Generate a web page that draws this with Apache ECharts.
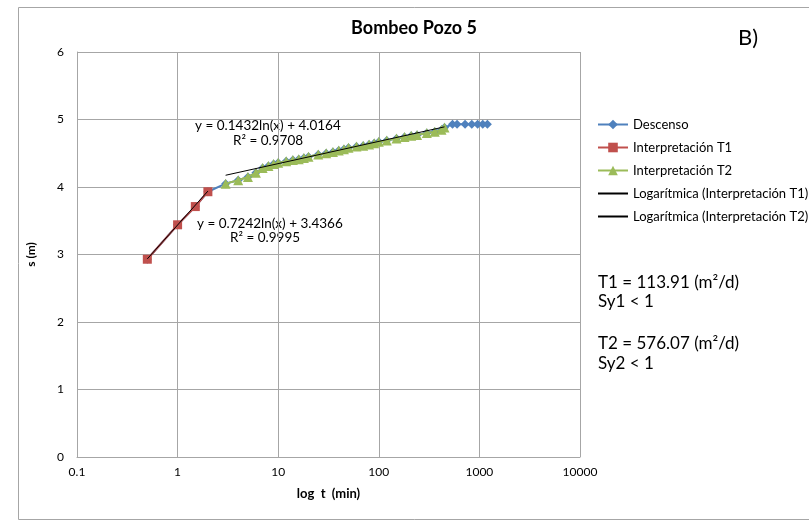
<!DOCTYPE html>
<html><head><meta charset="utf-8">
<script src="https://cdn.jsdelivr.net/npm/echarts@6/dist/echarts.min.js"></script>
<style>html,body{margin:0;padding:0;background:#fff}#c{width:809px;height:525px}</style>
</head><body><div id="c"></div>
<script>
// Times (min) and drawdowns (m)
const t1Times = [0.5, 1, 1.5, 2];
const t1Values = [2.93, 3.44, 3.71, 3.93];
const t2Times = [3, 4, 5, 6, 7, 8, 9, 10, 12, 14, 16, 18, 20, 25, 30, 35, 40, 45, 50, 60, 70, 80, 90, 100, 120, 150, 180, 210, 240, 300, 360, 420, 450];
const t2Values = [4.05, 4.10, 4.15, 4.21, 4.28, 4.31, 4.34, 4.36, 4.38, 4.40, 4.41, 4.43, 4.45, 4.48, 4.50, 4.52, 4.54, 4.56, 4.58, 4.60, 4.61, 4.63, 4.65, 4.67, 4.69, 4.72, 4.74, 4.76, 4.77, 4.80, 4.82, 4.85, 4.88];
const tailTimes = [540, 600, 720, 840, 960, 1080, 1200];
const tailValues = [4.93, 4.93, 4.93, 4.93, 4.93, 4.93, 4.93];
// Logarithmic trend line endpoints (straight on a log axis)
const trendT1Times = [0.5, 2];
const trendT1Values = [2.935, 3.939];
const trendT2Times = [3, 450];
const trendT2Values = [4.174, 4.891];
const xTickLabels = ['0.1', '1', '10', '100', '1000', '10000'];
const yTickLabels = ['0', '1', '2', '3', '4', '5', '6'];

const zip = (a, b) => a.map((v, i) => [v, b[i]]);
const descenso = zip(t1Times.concat(t2Times, tailTimes), t1Values.concat(t2Values, tailValues));

const FONT = 'Lato';
const noMarker = {color: 'rgba(0,0,0,0)', borderWidth: 0, opacity: 0};
const chart = echarts.init(document.getElementById('c'), null, {renderer: 'canvas'});
chart.setOption({
  animation: false,
  textStyle: {fontFamily: FONT},
  grid: {left: 77, right: 229, top: 52, bottom: 68, containLabel: false},
  xAxis: {
    type: 'log', logBase: 10, min: 0.1, max: 10000,
    name: 'log  t  (min)', nameLocation: 'middle', nameGap: 30,
    nameTextStyle: {fontFamily: FONT, fontWeight: 'bold', fontSize: 13, color: '#000'},
    axisLine: {show: true, lineStyle: {color: '#A6A6A6'}},
    axisTick: {show: false},
    axisLabel: {fontFamily: FONT, fontSize: 12, color: '#000', margin: 9,
      formatter: v => { const i = Math.round(Math.log10(v)) + 1; return xTickLabels[i] !== undefined ? xTickLabels[i] : ''; }},
    splitLine: {show: true, lineStyle: {color: '#A6A6A6', width: 1}}
  },
  yAxis: {
    type: 'value', min: 0, max: 6, interval: 1,
    name: 's (m)', nameLocation: 'middle', nameGap: 40,
    nameTextStyle: {fontFamily: FONT, fontWeight: 'bold', fontSize: 12, color: '#000'},
    axisLine: {show: true, lineStyle: {color: '#A6A6A6'}},
    axisTick: {show: false},
    axisLabel: {fontFamily: FONT, fontSize: 12, color: '#000', margin: 13,
      formatter: v => yTickLabels[Math.round(v)]},
    splitLine: {show: true, lineStyle: {color: '#A6A6A6', width: 1}}
  },
  legend: {
    orient: 'vertical', left: 592, top: 113, itemGap: 10,
    itemWidth: 30, itemHeight: 12,
    textStyle: {fontFamily: FONT, fontSize: 13, lineHeight: 12, color: '#000'},
    data: ['Descenso', 'Interpretación T1', 'Interpretación T2',
      {name: 'Logarítmica (Interpretación T1)', itemStyle: noMarker},
      {name: 'Logarítmica (Interpretación T2)', itemStyle: noMarker}]
  },
  series: [
    {name: 'Descenso', type: 'line', data: descenso, symbol: 'diamond', symbolSize: 9,
      lineStyle: {color: '#4F81BD', width: 2}, itemStyle: {color: '#4F81BD'}, z: 2},
    {name: 'Interpretación T1', type: 'line', data: zip(t1Times, t1Values), symbol: 'rect', symbolSize: 9,
      lineStyle: {color: '#C0504D', width: 2}, itemStyle: {color: '#C0504D'}, z: 3},
    {name: 'Interpretación T2', type: 'line', data: zip(t2Times, t2Values), symbol: 'triangle', symbolSize: 10,
      lineStyle: {color: '#9BBB59', width: 2}, itemStyle: {color: '#9BBB59'}, z: 3},
    {name: 'Logarítmica (Interpretación T1)', type: 'line', data: zip(trendT1Times, trendT1Values), symbol: 'none',
      lineStyle: {color: '#000', width: 1}, itemStyle: {color: '#000'}, z: 4},
    {name: 'Logarítmica (Interpretación T2)', type: 'line', data: zip(trendT2Times, trendT2Values), symbol: 'none',
      lineStyle: {color: '#000', width: 1}, itemStyle: {color: '#000'}, z: 4}
  ],
  graphic: [
    {type: 'rect', shape: {x: 18.5, y: 7.5, width: 800, height: 512}, style: {fill: 'none', stroke: '#A6A6A6', lineWidth: 1}, silent: true, z: -10},
    {type: 'text', style: {text: 'Bombeo Pozo 5', x: 414, y: 28, align: 'center', verticalAlign: 'middle', font: 'bold 18px Lato', fill: '#000'}},
    {type: 'text', style: {text: 'B)', x: 738, y: 38, verticalAlign: 'middle', font: '22px Lato', fill: '#000'}},
    {type: 'text', style: {text: 'y = 0.1432ln(x) + 4.0164', x: 195, y: 126, verticalAlign: 'middle', font: '13.5px Lato', fill: '#000'}},
    {type: 'text', style: {text: 'R² = 0.9708', x: 233, y: 141, verticalAlign: 'middle', font: '13.5px Lato', fill: '#000'}},
    {type: 'text', style: {text: 'y = 0.7242ln(x) + 3.4366', x: 197, y: 224, verticalAlign: 'middle', font: '13.5px Lato', fill: '#000'}},
    {type: 'text', style: {text: 'R² = 0.9995', x: 230, y: 238, verticalAlign: 'middle', font: '13.5px Lato', fill: '#000'}},
    {type: 'text', style: {text: 'T1 = 113.91 (m²/d)', x: 598, y: 283, verticalAlign: 'middle', font: '17px Lato', fill: '#000'}},
    {type: 'text', style: {text: 'Sy1 < 1', x: 598, y: 302, verticalAlign: 'middle', font: '17px Lato', fill: '#000'}},
    {type: 'text', style: {text: 'T2 = 576.07 (m²/d)', x: 598, y: 344, verticalAlign: 'middle', font: '17px Lato', fill: '#000'}},
    {type: 'text', style: {text: 'Sy2 < 1', x: 598, y: 364, verticalAlign: 'middle', font: '17px Lato', fill: '#000'}}
  ]
});
</script></body></html>
